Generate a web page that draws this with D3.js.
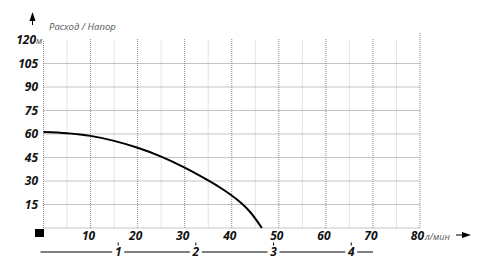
<!DOCTYPE html>
<html>
<head>
<meta charset="utf-8">
<script src="https://cdn.jsdelivr.net/npm/d3@7"></script>
<style>
body { margin: 0; background: #fff; }
text { font-family: "Open Sans", "DejaVu Sans", sans-serif; }
</style>
</head>
<body>
<script>
const width = 485;
const height = 265;

// pump curve, flow l/min vs head m
const flow = [0, 5, 10, 15, 20, 25, 30, 35, 38, 40, 42, 44, 46.4];
const head = [61.3, 60.5, 58.8, 55.6, 51.2, 45.6, 38.6, 30.4, 24.9, 20.7, 15.9, 9.9, 0];

const xTicks = [10, 20, 30, 40, 50, 60, 70, 80];
const yTicks = [15, 30, 45, 60, 75, 90, 105, 120];
const m3hTicks = [1, 2, 3, 4];

const x = d3.scaleLinear().domain([0, 80]).range([43.5, 420]);
const y = d3.scaleLinear().domain([0, 120]).range([228, 40]);
// second flow scale in m3/h under the chart
const xm = d3.scaleLinear().domain([0, 4.28]).range([40.5, 373]);

const svg = d3.select("body").append("svg")
  .attr("width", width)
  .attr("height", height);

// minor verticals
svg.selectAll("line.minor")
  .data(d3.range(5, 80, 10))
  .enter().append("line")
  .attr("x1", d => x(d)).attr("x2", d => x(d))
  .attr("y1", y(0)).attr("y2", y(120))
  .attr("stroke", "#e4e4e4").attr("stroke-width", 1);

// major horizontals
svg.selectAll("line.hgrid")
  .data([0].concat(yTicks.slice(0, -1)))
  .enter().append("line")
  .attr("x1", x(0)).attr("x2", x(80))
  .attr("y1", d => y(d)).attr("y2", d => y(d))
  .attr("stroke", "#8a8a8a").attr("stroke-width", 1)
  .attr("stroke-dasharray", "1,1");

// major verticals
svg.selectAll("line.vgrid")
  .data([0].concat(xTicks))
  .enter().append("line")
  .attr("x1", d => x(d)).attr("x2", d => x(d))
  .attr("y1", y(0)).attr("y2", d => d == 80 ? 33 : (d == 0 ? y(120) : 38))
  .attr("stroke", "#8a8a8a").attr("stroke-width", 1)
  .attr("stroke-dasharray", "1,1");

// curve
const line = d3.line()
  .x((d, i) => x(flow[i]))
  .y(d => y(d))
  .curve(d3.curveCatmullRom);
svg.append("path")
  .attr("d", line(head))
  .attr("fill", "none")
  .attr("stroke", "#000")
  .attr("stroke-width", 2);

// y labels
svg.selectAll("text.ylab")
  .data(yTicks)
  .enter().append("text")
  .attr("x", d => d == 120 ? 36 : 38)
  .attr("y", d => y(d) + 4)
  .attr("text-anchor", "end")
  .attr("font-size", 12)
  .attr("font-weight", "bold")
  .attr("font-style", "italic")
  .attr("fill", "#111")
  .text(d => d);
svg.append("text")
  .attr("x", 36).attr("y", y(120) + 4)
  .attr("font-size", 9).attr("font-style", "italic").attr("fill", "#555")
  .text("м");

// x labels
svg.selectAll("text.xlab")
  .data(xTicks)
  .enter().append("text")
  .attr("x", d => d == 80 ? x(d) + 4 : x(d) - 2)
  .attr("y", 240)
  .attr("text-anchor", d => d == 80 ? "end" : "middle")
  .attr("font-size", 12)
  .attr("font-weight", "bold")
  .attr("font-style", "italic")
  .attr("fill", "#111")
  .text(d => d);
svg.append("text")
  .attr("x", x(80) + 5).attr("y", 240)
  .attr("font-size", 9).attr("font-style", "italic").attr("fill", "#555")
  .text("л/мин");

// title
svg.append("text")
  .attr("x", 49).attr("y", 30)
  .attr("font-size", 9.5).attr("font-style", "italic").attr("fill", "#555")
  .text("Расход / Напор");

// up arrow
svg.append("line")
  .attr("x1", 32.5).attr("x2", 32.5).attr("y1", 25).attr("y2", 16)
  .attr("stroke", "#000").attr("stroke-width", 1);
svg.append("path")
  .attr("d", "M32.5,12 L29.5,21 L35.5,21 Z")
  .attr("fill", "#000");

// right arrow
svg.append("line")
  .attr("x1", 456).attr("x2", 466).attr("y1", 235).attr("y2", 235)
  .attr("stroke", "#000").attr("stroke-width", 1);
svg.append("path")
  .attr("d", "M471,235 L462,232 L462,238 Z")
  .attr("fill", "#000");

// origin square
svg.append("rect")
  .attr("x", 35).attr("y", 229).attr("width", 9).attr("height", 8)
  .attr("fill", "#000");

// m3/h scale
const gap = 6;
const segs = [];
for (let i = 0; i < m3hTicks.length; i++) {
  segs.push([i == 0 ? xm(0) : xm(m3hTicks[i - 1]) + gap, xm(m3hTicks[i]) - gap]);
}
segs.push([xm(4) + gap, xm(4.28)]);
svg.selectAll("line.seg")
  .data(segs)
  .enter().append("line")
  .attr("x1", d => d[0]).attr("x2", d => d[1])
  .attr("y1", 252).attr("y2", 252)
  .attr("stroke", "#000").attr("stroke-width", 1);
svg.selectAll("line.mtick")
  .data(m3hTicks)
  .enter().append("line")
  .attr("x1", d => xm(d)).attr("x2", d => xm(d))
  .attr("y1", 242.5).attr("y2", 245.5)
  .attr("stroke", "#000").attr("stroke-width", 1);
svg.selectAll("text.mlab")
  .data(m3hTicks)
  .enter().append("text")
  .attr("x", d => xm(d))
  .attr("y", 256)
  .attr("text-anchor", "middle")
  .attr("font-size", 12)
  .attr("font-weight", "bold")
  .attr("font-style", "italic")
  .attr("fill", "#111")
  .text(d => d);
</script>
</body>
</html>
